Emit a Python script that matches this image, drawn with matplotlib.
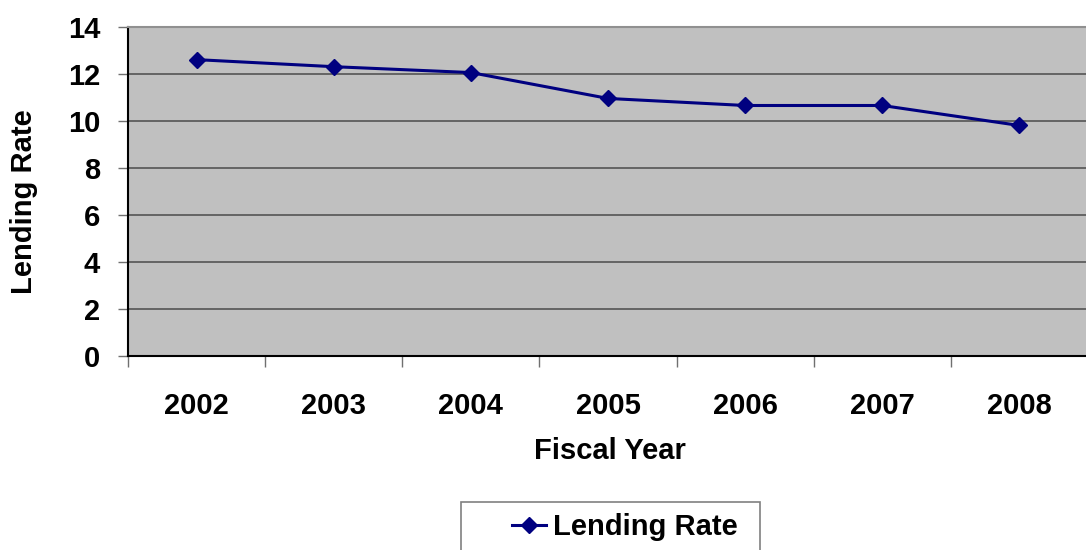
import matplotlib.pyplot as plt
from matplotlib.patches import Rectangle
from matplotlib.ticker import FixedLocator

years = ["2002", "2003", "2004", "2005", "2006", "2007", "2008"]
lending_rate = [12.6, 12.3, 12.05, 10.95, 10.65, 10.65, 9.8]

plt.rcParams['font.family'] = ['Liberation Sans', 'DejaVu Sans']
plt.rcParams['font.weight'] = 'bold'

FS = 21
NAVY = '#000080'

fig = plt.figure(figsize=(10.86, 5.5), dpi=100)
ax = fig.add_axes([128 / 1086, 194 / 550, 960 / 1086, 329.3 / 550])
ax.set_facecolor('#C0C0C0')

x = list(range(len(years)))
ax.plot(x, lending_rate, color=NAVY, lw=2.2, marker='D', markersize=8.5,
        label='Lending Rate', zorder=3)

ax.set_xlim(-0.5, len(years) - 0.5)
ax.set_ylim(0, 14)
ax.set_yticks(range(0, 15, 2))
ax.yaxis.grid(True, color='#555555', lw=1.2)
ax.set_axisbelow(True)

# category labels sit between the tick marks
ax.set_xticks(x)
ax.set_xticklabels(years, fontsize=FS, fontweight='bold')
ax.xaxis.set_minor_locator(FixedLocator([i - 0.5 for i in range(len(years) + 1)]))
ax.tick_params(axis='x', which='major', length=0, pad=26)
ax.tick_params(axis='x', which='minor', length=8, width=1, color='#707070', direction='out')
ax.tick_params(axis='y', length=7, width=1, color='#707070', pad=13, labelsize=FS)
for t in ax.get_yticklabels():
    t.set_fontweight('bold')

for side in ('left', 'bottom'):
    ax.spines[side].set_color('black')
    ax.spines[side].set_linewidth(1.5)
ax.spines['top'].set_color('#909090')
ax.spines['top'].set_linewidth(1.5)
ax.spines['right'].set_visible(False)

ax.set_xlabel('Fiscal Year', fontsize=FS, fontweight='bold')
ax.xaxis.set_label_coords(0.502, -0.246)
ax.set_ylabel('Lending Rate', fontsize=FS, fontweight='bold')
ax.yaxis.set_label_coords(-0.094, 0.47)

leg = fig.legend(loc='center left', bbox_to_anchor=(512 / 1086, (550 - 527) / 550),
                 frameon=False, fontsize=FS, handlelength=1.15, handletextpad=0.25,
                 borderpad=0, borderaxespad=0)
for t in leg.get_texts():
    t.set_fontweight('bold')
fig.patches.append(Rectangle((461 / 1086, -0.02), 299 / 1086, (550 - 502) / 550 + 0.02,
                             transform=fig.transFigure, fill=False,
                             edgecolor='#808080', lw=1.2))

fig.savefig('out.png', dpi=100)
